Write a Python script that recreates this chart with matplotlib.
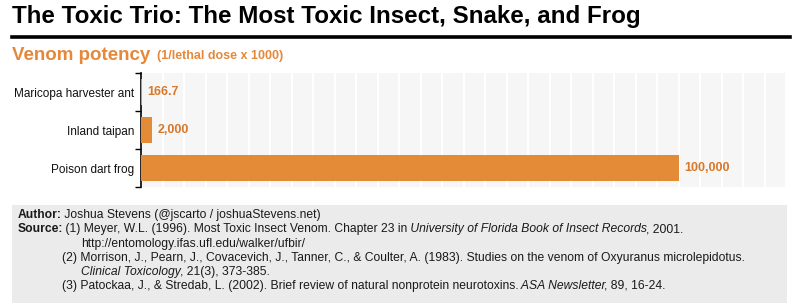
import matplotlib
matplotlib.use('Agg')
import matplotlib.pyplot as plt
from matplotlib.patches import Rectangle
from matplotlib.lines import Line2D

plt.rcParams['font.family'] = ['Liberation Sans', 'DejaVu Sans']

species = ['Maricopa harvester ant', 'Inland taipan', 'Poison dart frog']
potency = [166.7, 2000, 100000]
value_labels = ['166.7', '2,000', '100,000']

W, H = 800, 308
BAR = '#e38b36'
LABEL = '#d9782a'
ORANGE = '#e5883a'


def px(x, y):
    # pixel coords (from top-left) -> figure fraction
    return x / W, 1 - y / H


fig = plt.figure(figsize=(8, 3.08), dpi=100)

# title and rule
fig.text(*px(12, 16), 'The Toxic Trio: The Most Toxic Insect, Snake, and Frog',
         fontsize=17.4, fontweight='bold', color='black', va='center', ha='left')
fig.add_artist(Line2D([12 / W, 790 / W], [1 - 36.5 / H] * 2, color='black', lw=2.6))

fig.text(*px(12, 55), 'Venom potency', fontsize=13.5, fontweight='bold',
         color=ORANGE, va='center', ha='left')
fig.text(*px(157, 56.5), '(1/lethal dose x 1000)', fontsize=9, fontweight='bold',
         color=ORANGE, va='center', ha='left')

# chart
ax = fig.add_axes([141 / W, 1 - 187 / H, (785 - 141) / W, (187 - 73) / H])
ax.set_facecolor('#f6f6f6')
ypos = [0, 1, 2]
ax.barh(ypos, potency, height=0.66, color=BAR, zorder=3)
for y, v, lab in zip(ypos, potency, value_labels):
    ax.annotate(lab, (v, y), xytext=(4, 0), textcoords='offset points',
                va='center', ha='left', fontsize=9, fontweight='bold', color=LABEL)
ax.set_xlim(0, 119800)
ax.set_ylim(2.5, -0.5)
ax.set_xticks(range(4000, 120000, 4000))
ax.grid(axis='x', color='white', lw=1.6, zorder=1)
ax.tick_params(axis='x', length=0, labelbottom=False)
ax.set_yticks(ypos)
ax.set_yticklabels(species, fontsize=8.5, color='#111111')
ax.tick_params(axis='y', which='major', length=0, pad=5)
ax.set_yticks([-0.5, 0.5, 1.5, 2.5], minor=True)
ax.tick_params(axis='y', which='minor', length=4, width=1, color='black')
for s in ['top', 'right', 'bottom']:
    ax.spines[s].set_visible(False)
ax.spines['left'].set_color('black')
ax.spines['left'].set_linewidth(1.2)

# footer
fig.add_artist(Rectangle((12 / W, 1 - 303 / H), (787 - 12) / W, (303 - 205) / H,
                         facecolor='#ebebeb', edgecolor='none', transform=fig.transFigure))

renderer = fig.canvas.get_renderer()
FS = 8.75


def line(x, y, pieces):
    # pieces: list of (text, style) where style in 'n', 'b', 'i'
    # spaces between pieces go at the start of the next piece
    cur = x / W
    for txt, st in pieces:
        t = fig.text(cur, 1 - y / H, txt, fontsize=FS, va='center', ha='left', color='#1a1a1a',
                     fontweight='bold' if st == 'b' else 'normal',
                     fontstyle='italic' if st == 'i' else 'normal')
        bb = t.get_window_extent(renderer)
        cur = (bb.x1 - 1) / W


line(18, 215, [('Author:', 'b'), (' Joshua Stevens (@jscarto / joshuaStevens.net)', 'n')])
line(18, 229, [('Source:', 'b'), (' (1) Meyer, W.L. (1996). Most Toxic Insect Venom. Chapter 23 in', 'n'),
               (' University of Florida Book of Insect Records', 'i'), (', 2001.', 'n')])
line(81, 244, [('http://entomology.ifas.ufl.edu/walker/ufbir/', 'n')])
line(62, 258, [('(2) Morrison, J., Pearn, J., Covacevich, J., Tanner, C., & Coulter, A. (1983). '
                'Studies on the venom of Oxyuranus microlepidotus.', 'n')])
line(81, 272, [('Clinical Toxicology', 'i'), (', 21(3), 373-385.', 'n')])
line(62, 286, [('(3) Patockaa, J., & Stredab, L. (2002). Brief review of natural nonprotein neurotoxins.', 'n'),
               (' ASA Newsletter', 'i'), (', 89, 16-24.', 'n')])

fig.savefig('out.png', dpi=100)
